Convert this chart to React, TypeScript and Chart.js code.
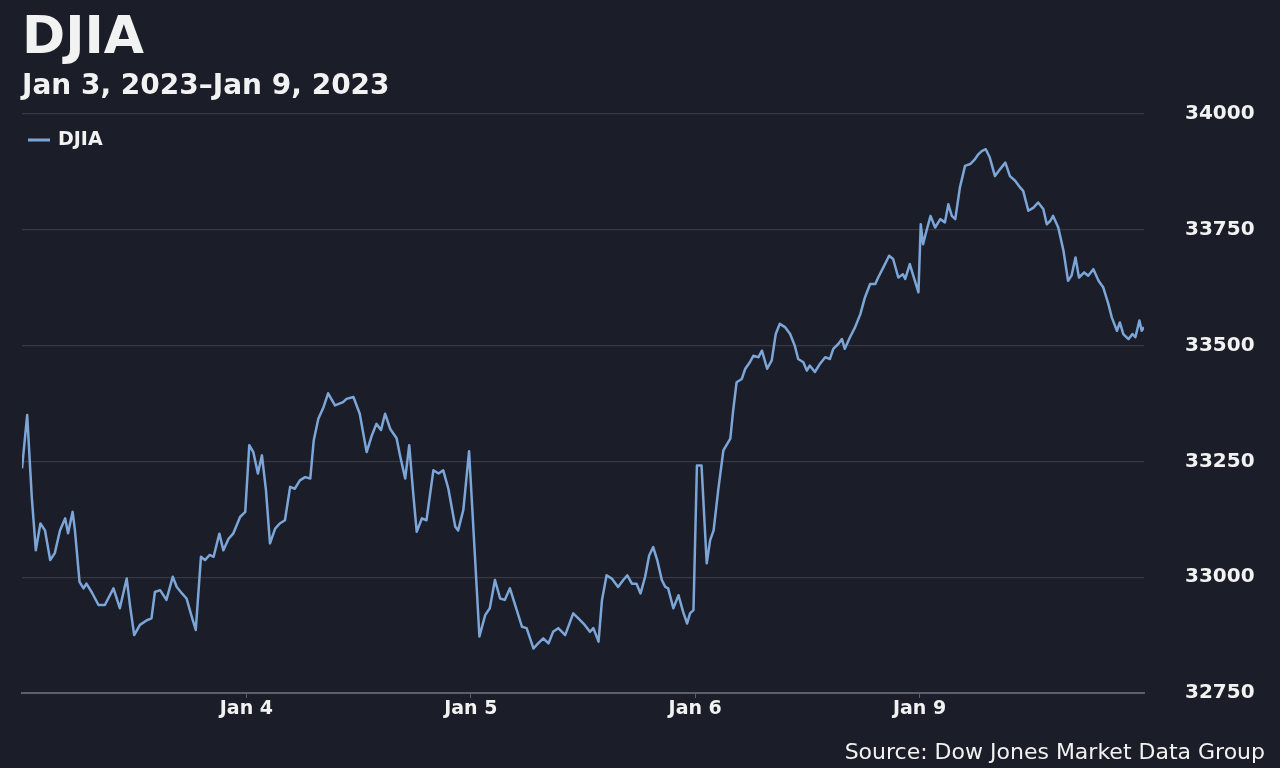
import React, { useEffect, useRef } from "react";
import { Chart, registerables } from "chart.js";

Chart.register(...registerables);

// ---- data ----
const dayLabels = ["Jan 3", "Jan 4", "Jan 5", "Jan 6", "Jan 9"];
const minutesPerDay = 390;
const titleText = "DJIA";
const subtitleText = "Jan 3, 2023–Jan 9, 2023";
const seriesName = "DJIA";
const sourceText = "Source: Dow Jones Market Data Group";
const yMin = 32750;
const yMax = 34000;
const yStep = 250;

// minutes after the open, and index level, per trading day
const jan3Minutes = [0, 9, 17, 24, 32, 40, 49, 57, 66, 75, 80, 88, 92, 100, 107, 112, 121, 133, 144, 159, 170, 182, 188, 195, 205, 217, 225, 231, 240, 251, 262, 269, 278, 286, 295, 302, 311, 318, 326, 333, 343, 350, 359, 367, 379, 388];
const jan3Values = [33235, 33350, 33173, 33058, 33116, 33101, 33037, 33052, 33101, 33127, 33095, 33141, 33101, 32990, 32976, 32986, 32968, 32940, 32940, 32976, 32933, 32997, 32936, 32875, 32897, 32907, 32911, 32968, 32972, 32951, 33001, 32979, 32965, 32954, 32915, 32886, 33044, 33037, 33048, 33044, 33094, 33058, 33083, 33094, 33130, 33141];

const jan4Minutes = [5, 12, 20, 27, 34, 41, 50, 58, 67, 76, 84, 93, 102, 111, 117, 125, 134, 142, 154, 168, 174, 186, 197, 209, 218, 226, 234, 241, 250, 261, 267, 276, 283, 290, 296, 305, 313, 325, 334, 342, 351, 363, 368, 377, 387];
const jan4Values = [33285, 33270, 33224, 33263, 33188, 33073, 33105, 33116, 33123, 33195, 33191, 33209, 33216, 33213, 33295, 33342, 33367, 33397, 33371, 33378, 33385, 33389, 33353, 33270, 33306, 33331, 33318, 33353, 33320, 33300, 33263, 33213, 33285, 33180, 33098, 33127, 33123, 33231, 33224, 33231, 33191, 33109, 33101, 33145, 33272];

const jan5Minutes = [15, 25, 33, 42, 51, 59, 68, 77, 89, 97, 109, 117, 126, 135, 143, 152, 164, 178, 187, 198, 207, 213, 222, 228, 236, 245, 256, 265, 272, 280, 288, 295, 303, 310, 317, 324, 332, 338, 343, 352, 361, 369, 376, 381, 387];
const jan5Values = [32872, 32918, 32933, 32994, 32954, 32951, 32976, 32940, 32893, 32890, 32846, 32857, 32868, 32857, 32882, 32890, 32875, 32922, 32911, 32897, 32882, 32890, 32861, 32951, 33004, 32997, 32979, 32994, 33004, 32986, 32986, 32965, 33001, 33047, 33065, 33037, 32994, 32979, 32976, 32933, 32961, 32925, 32900, 32922, 32929];

const jan6Minutes = [3, 11, 20, 26, 32, 40, 49, 61, 66, 72, 81, 87, 95, 101, 110, 116, 125, 133, 140, 147, 156, 165, 173, 179, 188, 194, 199, 208, 217, 226, 234, 240, 249, 255, 260, 269, 278, 287, 295, 304, 313, 318, 327, 337, 344, 353, 361, 365, 373, 379, 388];
const jan6Values = [33241, 33241, 33030, 33080, 33101, 33188, 33274, 33299, 33360, 33421, 33428, 33450, 33464, 33478, 33475, 33489, 33450, 33468, 33525, 33547, 33540, 33525, 33500, 33471, 33464, 33446, 33457, 33443, 33461, 33475, 33471, 33493, 33504, 33514, 33493, 33518, 33540, 33568, 33604, 33633, 33633, 33647, 33669, 33694, 33687, 33647, 33654, 33644, 33676, 33651, 33615];

const jan9Minutes = [2, 6, 12, 19, 27, 36, 44, 50, 56, 62, 70, 79, 88, 96, 102, 108, 115, 122, 131, 140, 149, 157, 166, 175, 180, 189, 198, 206, 215, 221, 227, 232, 241, 250, 258, 264, 271, 277, 286, 293, 302, 311, 319, 328, 334, 343, 348, 354, 363, 370, 375, 382, 386, 390];
const jan9Values = [33762, 33719, 33748, 33780, 33755, 33773, 33766, 33805, 33780, 33773, 33841, 33888, 33892, 33902, 33913, 33920, 33924, 33906, 33866, 33881, 33895, 33866, 33856, 33841, 33834, 33791, 33798, 33809, 33795, 33762, 33769, 33780, 33755, 33705, 33640, 33651, 33690, 33647, 33658, 33651, 33665, 33640, 33626, 33590, 33561, 33532, 33550, 33525, 33514, 33525, 33518, 33554, 33532, 33540];

const dayMinutes = [jan3Minutes, jan4Minutes, jan5Minutes, jan6Minutes, jan9Minutes];
const dayValues = [jan3Values, jan4Values, jan5Values, jan6Values, jan9Values];

// ---- styles ----
const BG = "#1b1e28";
const LINE = "#7ca5d8";
const GRID = "#363944";
const AXIS = "#5d606b";
const TEXT = "#f2f2f2";
const FONT = "'DejaVu Sans', Verdana, sans-serif";

export default function App() {
  const ref = useRef<HTMLCanvasElement | null>(null);

  useEffect(() => {
    document.body.style.margin = "0";
    document.body.style.background = BG;
    const canvas = ref.current;
    if (!canvas) return;

    const points: { x: number; y: number }[] = [];
    dayMinutes.forEach((mins, d) => {
      mins.forEach((m, j) => {
        points.push({ x: d * minutesPerDay + m, y: dayValues[d][j] });
      });
    });
    const tickMinutes = dayLabels.slice(1).map((_, i) => (i + 1) * minutesPerDay);

    const bgPlugin = {
      id: "bgFill",
      beforeDraw(chart: any) {
        const c = chart.ctx;
        c.save();
        c.fillStyle = BG;
        c.fillRect(0, 0, chart.width, chart.height);
        c.restore();
      },
    };
    // legend drawn inside the plot area, top-left, plus source note
    const overlayPlugin = {
      id: "overlayNotes",
      afterDraw(chart: any) {
        const c = chart.ctx;
        const area = chart.chartArea;
        const ds = chart.data.datasets[0];
        c.save();
        const ly = area.top + 26;
        c.strokeStyle = ds.borderColor;
        c.lineWidth = 3;
        c.beginPath();
        c.moveTo(area.left + 6, ly);
        c.lineTo(area.left + 28, ly);
        c.stroke();
        c.font = `bold 19px ${FONT}`;
        c.fillStyle = TEXT;
        c.textAlign = "left";
        c.textBaseline = "middle";
        c.fillText(ds.label, area.left + 36, ly);

        c.font = `22px ${FONT}`;
        c.textAlign = "right";
        c.textBaseline = "alphabetic";
        c.fillText(sourceText, chart.width - 15, 759);
        c.restore();
      },
    };

    const chart = new Chart(canvas, {
      type: "line",
      data: {
        datasets: [
          {
            label: seriesName,
            data: points,
            borderColor: LINE,
            backgroundColor: LINE,
            borderWidth: 2.5,
            pointRadius: 0,
            tension: 0,
            borderJoinStyle: "round",
            fill: false,
          },
        ],
      },
      options: {
        animation: false,
        responsive: true,
        maintainAspectRatio: false,
        parsing: false,
        layout: { padding: { left: 22, right: 0, top: 0, bottom: 0 } },
        plugins: {
          title: {
            display: true,
            text: titleText,
            align: "start",
            color: TEXT,
            font: { family: FONT, size: 52, weight: "bold" },
            padding: { top: 8, bottom: 0 },
          },
          subtitle: {
            display: true,
            text: subtitleText,
            align: "start",
            color: TEXT,
            font: { family: FONT, size: 28, weight: "bold" },
            padding: { top: 0, bottom: 10 },
          },
          legend: { display: false },
          tooltip: { enabled: false },
        },
        scales: {
          x: {
            type: "linear",
            min: 0,
            max: dayLabels.length * minutesPerDay,
            afterBuildTicks: (s: any) => {
              s.ticks = tickMinutes.map((v) => ({ value: v }));
            },
            ticks: {
              color: TEXT,
              font: { family: FONT, size: 19, weight: "bold" },
              padding: 0,
              maxRotation: 0,
              callback: (v: any) => dayLabels[Math.round(Number(v) / minutesPerDay)] ?? "",
            },
            grid: {
              display: true,
              drawOnChartArea: false,
              drawTicks: true,
              tickLength: 5,
              color: AXIS,
            },
            border: { display: true, color: AXIS, width: 2 },
            afterFit: (s: any) => {
              s.height = 75;
            },
          },
          y: {
            position: "right",
            min: yMin,
            max: yMax,
            ticks: {
              stepSize: yStep,
              color: TEXT,
              font: { family: FONT, size: 20, weight: "bold" },
              padding: 41,
              callback: (v: any) => String(v),
            },
            grid: { color: GRID, drawTicks: false, lineWidth: 1.2 },
            border: { display: false },
            afterFit: (s: any) => {
              s.width = 136;
            },
          },
        },
      },
      plugins: [bgPlugin, overlayPlugin],
    } as any);

    return () => chart.destroy();
  }, []);

  return (
    <div style={{ position: "relative", width: 1280, height: 768, background: BG }}>
      <canvas ref={ref} />
    </div>
  );
}
